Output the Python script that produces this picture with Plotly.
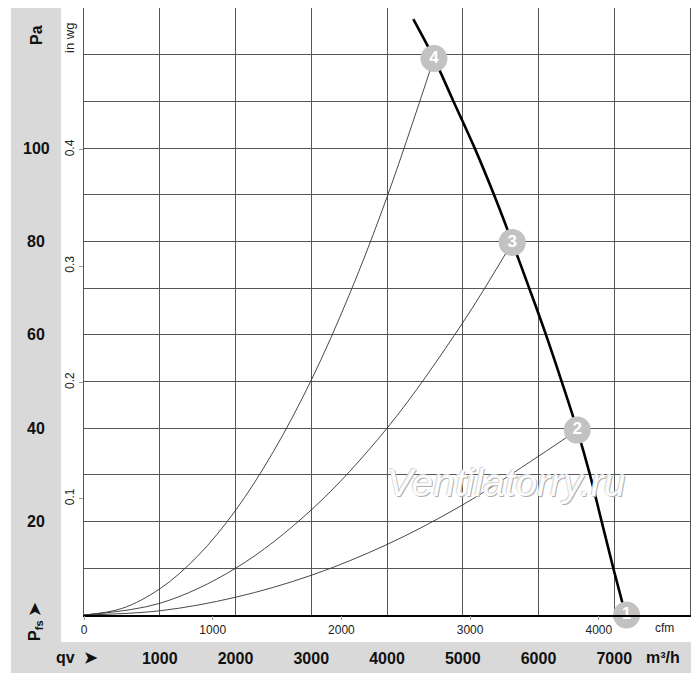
import plotly.graph_objects as go

# ---------------- data ----------------
flow_ticks_m3h = [1000, 2000, 3000, 4000, 5000, 6000, 7000]
flow_labels_m3h = ['1000', '2000', '3000', '4000', '5000', '6000', '7000']
cfm_ticks = [0, 1000, 2000, 3000, 4000]
pa_grid = [0, 10, 20, 30, 40, 50, 60, 70, 80, 90, 100, 110, 120, 130]
pa_labels = [20, 40, 60, 80, 100]
inwg_ticks = [0.1, 0.2, 0.3, 0.4]

# fan characteristic (m³/h, Pa)
fan_q = [4347, 4620, 4875, 5155, 5410, 5654, 5875, 6099, 6306, 6512, 6680, 6834, 6988, 7150]
fan_p = [127.6, 119.2, 110.1, 100.1, 90.1, 79.8, 70.1, 60.0, 50.0, 39.6, 30.0, 20.0, 10.0, 0.0]

# system curves
sys4_q = [0, 500, 1000, 1500, 2000, 2500, 3000, 3500, 4000, 4620]
sys4_p = [0, 1.4, 5.6, 12.6, 22.4, 35.0, 50.3, 68.5, 89.5, 119.2]
sys3_q = [0, 1000, 2000, 3000, 4000, 5000, 5654]
sys3_p = [0, 2.5, 10.0, 22.5, 40.0, 62.6, 79.8]
sys2_q = [0, 1000, 2000, 3000, 4000, 5000, 6000, 6512]
sys2_p = [0, 0.9, 3.8, 8.5, 15.1, 23.6, 34.0, 39.6]

# operating points
op_q = [7162, 6512, 5654, 4620]
op_p = [0.0, 39.6, 79.8, 119.2]
op_labels = ['1', '2', '3', '4']

PA_MAX = 130
Q_MAX = 8000
CFM_TO_M3H = 1.699
PA_PER_INWG = 249.09

FONT = 'Liberation Sans, Arial, sans-serif'
GRID = '#555555'
BAND = '#d9d9d9'

fig = go.Figure()

for q, p in [(sys4_q, sys4_p), (sys3_q, sys3_p), (sys2_q, sys2_p)]:
    fig.add_trace(go.Scatter(x=q, y=p, mode='lines', line=dict(color='#333', width=0.9, shape='spline'),
                             hoverinfo='skip'))

fig.add_trace(go.Scatter(x=fan_q, y=fan_p, mode='lines',
                         line=dict(color='black', width=2.6, shape='spline', smoothing=1.0),
                         hoverinfo='skip'))

fig.add_trace(go.Scatter(x=op_q, y=op_p, mode='markers+text', text=op_labels,
                         textposition='middle center',
                         textfont=dict(family=FONT, size=17, color='white', weight='bold'),
                         marker=dict(size=27, color='#c2c2c2', line=dict(width=0)),
                         cliponaxis=False, hoverinfo='skip'))

# secondary axes (cfm / in wg)
fig.add_trace(go.Scatter(x=[None], y=[None], xaxis='x2', yaxis='y2', hoverinfo='skip'))

fig.update_layout(
    width=692, height=681,
    margin=dict(l=76, r=10, t=0, b=74),
    paper_bgcolor='white', plot_bgcolor='white',
    showlegend=False,
    font=dict(family=FONT, color='#111'),
    xaxis=dict(range=[0, Q_MAX], tickvals=flow_ticks_m3h, ticktext=flow_labels_m3h,
               showgrid=True, gridcolor=GRID, gridwidth=1, ticks='',
               ticklabelstandoff=28,
               tickfont=dict(family=FONT, size=16, color='#111', weight='bold'),
               showline=True, linecolor='black', linewidth=1.6, zeroline=False),
    xaxis2=dict(overlaying='x', side='bottom', anchor='y',
                range=[0, Q_MAX / CFM_TO_M3H], tickvals=cfm_ticks,
                ticks='outside', ticklen=4, tickcolor='#999', showgrid=False,
                showline=False, zeroline=False,
                tickfont=dict(family=FONT, size=12, color='#222')),
    yaxis=dict(range=[0, PA_MAX], tickvals=pa_grid, showticklabels=False,
               showgrid=True, gridcolor=GRID, gridwidth=1, ticks='',
               showline=True, linecolor='#555', linewidth=1, mirror=True, zeroline=False),
    yaxis2=dict(overlaying='y', side='left', anchor='x',
                range=[0, PA_MAX / PA_PER_INWG], tickvals=inwg_ticks,
                tickangle=-90, ticks='outside', ticklen=4, tickcolor='#999',
                showgrid=False, zeroline=False, showline=False,
                tickfont=dict(family=FONT, size=12, color='#222')),
)

# grey side bar and bottom band
fig.add_shape(type='rect', xref='paper', yref='paper', x0=-0.1205, x1=-0.038, y0=-0.0445, y1=1.0,
              fillcolor=BAND, line=dict(width=0), layer='below')
fig.add_shape(type='rect', xref='paper', yref='paper', x0=-0.1205, x1=1.0017, y0=-0.0956, y1=-0.0445,
              fillcolor=BAND, line=dict(width=0), layer='below')

def note(x, y, text, size, bold=False, angle=0, yref='paper', xanchor='center', color='#111', **kw):
    fig.add_annotation(x=x, xref='paper', y=y, yref=yref, text=text, textangle=angle,
                       showarrow=False, xanchor=xanchor, yanchor='middle',
                       font=dict(family=FONT, size=size, color=color,
                                 weight='bold' if bold else 'normal', **kw))

# Pa labels in the side bar
for v in pa_labels:
    note(-0.0792, v, str(v), 16, bold=True, yref='y')

note(-0.0792, 0.9555, 'Pa', 16, bold=True, angle=-90)
note(-0.0792, -0.0115, 'P<sub>fs</sub> ➤', 16, bold=True, angle=-90)
note(-0.0231, 0.9506, 'in wg', 13, angle=-90, color='#222')
note(0.0264, -0.0692, 'qv\u00a0\u00a0➤', 16, bold=True, xanchor='right')
note(0.955, -0.0692, 'm³/h', 16, bold=True)
note(0.958, -0.0214, 'cfm', 12, color='#222')

# watermark
fig.add_annotation(x=0.697, xref='paper', y=0.218, yref='paper', text='Ventilatorry.ru',
                   showarrow=False, xanchor='center', yanchor='middle',
                   font=dict(family=FONT, size=39, color='#fcfcfc', style='italic',
                             shadow='1px 1px 0px #b0b0b0, -1px -1px 0px #d6d6d6'))

fig.write_html('out.html')
